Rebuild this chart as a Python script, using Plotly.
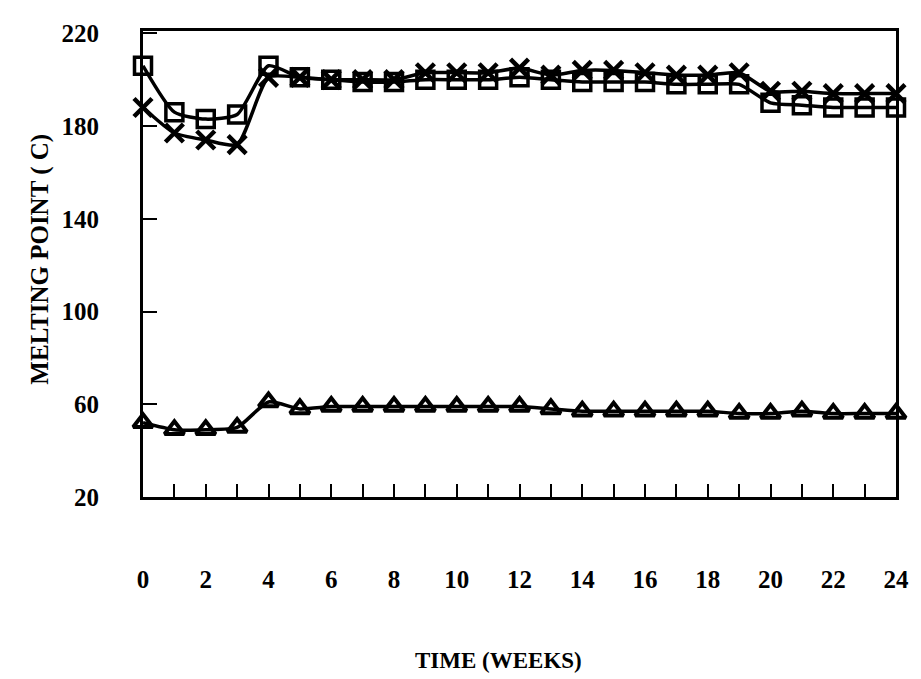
import plotly.graph_objects as go

weeks = list(range(0, 25))
square_vals = [206, 186, 183, 185, 206, 201, 200, 199, 199, 200, 200, 200, 201,
               200, 199, 199, 199, 198, 198, 198, 190, 189, 188, 188, 188]
x_vals = [188, 177, 174, 172, 201, 201, 200, 200, 200, 203, 203, 203, 205,
          202, 204, 204, 203, 202, 202, 203, 195, 195, 194, 194, 194]
tri_vals = [52, 49, 49, 50, 61, 58, 59, 59, 59, 59, 59, 59, 59,
            58, 57, 57, 57, 57, 57, 56, 56, 57, 56, 56, 56]
x_tick_vals = list(range(0, 25, 2))
y_tick_vals = [20, 60, 100, 140, 180, 220]

FONT = "Liberation Serif"
fig = go.Figure()

fig.add_trace(go.Scatter(
    x=weeks, y=tri_vals, mode="lines+markers",
    line=dict(color="black", width=3.5, shape="spline", smoothing=0.6),
    marker=dict(symbol="triangle-up-open", size=17, color="black",
                line=dict(width=4, color="black")),
    showlegend=False, cliponaxis=False))
fig.add_trace(go.Scatter(
    x=weeks, y=x_vals, mode="lines+markers",
    line=dict(color="black", width=3.5, shape="spline", smoothing=0.6),
    marker=dict(symbol="x-thin-open", size=18, color="black",
                line=dict(width=4.5, color="black")),
    showlegend=False, cliponaxis=False))
fig.add_trace(go.Scatter(
    x=weeks, y=square_vals, mode="lines+markers",
    line=dict(color="black", width=3.5, shape="spline", smoothing=0.6),
    marker=dict(symbol="square-open", size=17, color="black",
                line=dict(width=3.5, color="black")),
    showlegend=False, cliponaxis=False))

# plot area in page pixels: x 143..900, y 23..497 (page body has an 8px margin)
fig.update_layout(
    width=913, height=671,
    margin=dict(l=135, r=21, t=15, b=182),
    paper_bgcolor="white", plot_bgcolor="white",
    font=dict(family=FONT, color="black"),
    xaxis=dict(
        range=[0, 24], tickvals=x_tick_vals,
        ticks="inside", ticklen=13, tickwidth=2, tickcolor="black",
        minor=dict(dtick=1, ticks="inside", ticklen=13, tickwidth=2, tickcolor="black"),
        showline=True, linewidth=3, linecolor="black", mirror=True,
        showgrid=False, zeroline=False,
        tickfont=dict(family=FONT, size=25, color="black", weight="bold"),
        ticklabelstandoff=58,
    ),
    yaxis=dict(
        range=[20, 221], tickvals=y_tick_vals,
        ticks="inside", ticklen=14, tickwidth=2, tickcolor="black",
        showline=True, linewidth=3, linecolor="black", mirror=True,
        showgrid=False, zeroline=False,
        tickfont=dict(family=FONT, size=25, color="black", weight="bold"),
        ticklabelstandoff=36,
    ),
    annotations=[
        dict(text="<b>TIME (WEEKS)</b>", xref="paper", yref="paper",
             x=(500 - 143) / 757, y=-(663 - 497) / 474, xanchor="center", yanchor="middle",
             showarrow=False, font=dict(family=FONT, size=23, color="black")),
        dict(text="<b>MELTING POINT ( C)</b>", xref="paper", yref="paper",
             x=-(143 - 40) / 757, y=(497 - 255) / 474, xanchor="center", yanchor="middle",
             textangle=-90, showarrow=False, font=dict(family=FONT, size=25, color="black")),
    ],
)

fig.write_html("out.html")
